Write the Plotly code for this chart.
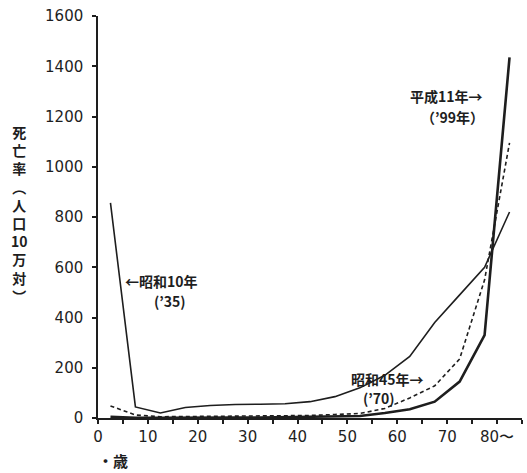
import plotly.graph_objects as go

# Age group midpoints (years)
ages = [2.5, 7.5, 12.5, 17.5, 22.5, 27.5, 32.5, 37.5, 42.5, 47.5,
        52.5, 57.5, 62.5, 67.5, 72.5, 77.5, 82.5]

# Death rate per 100,000 population
rate_1935 = [856, 44, 20, 42, 50, 54, 55, 57, 65, 85,
             120, 170, 245, 380, 490, 600, 820]
rate_1970 = [48, 12, 5, 6, 6, 6, 7, 8, 10, 14,
             18, 38, 80, 128, 235, 550, 1095]
rate_1999 = [5, 1, 1, 2, 2, 2, 2, 3, 4, 5,
             8, 20, 35, 65, 145, 330, 1435]

x_tickvals = [0, 10, 20, 30, 40, 50, 60, 70, 80]
x_ticktext = ["0", "10", "20", "30", "40", "50", "60", "70", "80〜"]
y_tickvals = [0, 200, 400, 600, 800, 1000, 1200, 1400, 1600]

ink = "#1e1e1e"
cjk = "Noto Sans CJK JP"

fig = go.Figure()
fig.add_trace(go.Scatter(x=ages, y=rate_1935, mode="lines",
                         line=dict(color=ink, width=1.6), name="昭和10年"))
fig.add_trace(go.Scatter(x=ages, y=rate_1970, mode="lines",
                         line=dict(color=ink, width=1.6, dash="4px,3px"), name="昭和45年"))
fig.add_trace(go.Scatter(x=ages, y=rate_1999, mode="lines",
                         line=dict(color=ink, width=2.6), name="平成11年"))

lab_font = dict(family=cjk, size=14, color=ink, weight="bold")
annots = [
    dict(x=12.8, y=545, text="←昭和10年"),
    dict(x=14.4, y=466, text="(’35)"),
    dict(x=69.8, y=1282, text="平成11年→"),
    dict(x=71.0, y=1198, text="（’99年）"),
    dict(x=58.0, y=155, text="昭和45年→"),
    dict(x=56.4, y=78, text="(’70)"),
]
for a in annots:
    fig.add_annotation(x=a["x"], y=a["y"], text=a["text"], xref="x", yref="y",
                       showarrow=False, font=lab_font, xanchor="center", yanchor="middle")

ytitle_chars = ["死", "亡", "率", "︵", "人", "口", "10", "万", "対", "︶"]
fig.add_annotation(x=-0.184, y=0.507, xref="paper", yref="paper",
                   text="<br>".join(ytitle_chars), showarrow=False,
                   font=dict(family=cjk, size=14, color=ink, weight="bold"),
                   xanchor="center", yanchor="middle", align="center")
fig.add_annotation(x=0.035, y=-0.105, xref="paper", yref="paper",
                   text="・歳", showarrow=False,
                   font=dict(family=cjk, size=15, color=ink, weight="bold"),
                   xanchor="center", yanchor="middle")

fig.update_layout(
    width=527, height=473,
    margin=dict(l=98, r=5, t=16, b=55),
    paper_bgcolor="white", plot_bgcolor="white",
    showlegend=False,
    font=dict(family="DejaVu Sans", size=15, color=ink),
)
tick_font = dict(family="DejaVu Sans", size=15, color=ink)
fig.update_xaxes(range=[0, 85], tickvals=x_tickvals, ticktext=x_ticktext,
                 showgrid=False, zeroline=False, showline=True, linecolor=ink, linewidth=1.5,
                 ticks="outside", ticklen=4, tickwidth=1.5, tickcolor=ink,
                 minor=dict(dtick=5, tick0=0, ticks="outside", ticklen=4, tickwidth=1.5, tickcolor=ink),
                 tickfont=tick_font, automargin=False)
fig.update_yaxes(range=[0, 1600], tickvals=y_tickvals,
                 showgrid=False, zeroline=False, showline=True, linecolor=ink, linewidth=1.5,
                 ticks="outside", ticklen=4, tickwidth=1.5, tickcolor=ink,
                 tickfont=tick_font, ticklabelstandoff=6, automargin=False)

# remove the default 8px page margin so the figure fills the window exactly
fig.write_html("out.html", config={"displayModeBar": False},
               post_script="document.body.style.margin='0px';")
